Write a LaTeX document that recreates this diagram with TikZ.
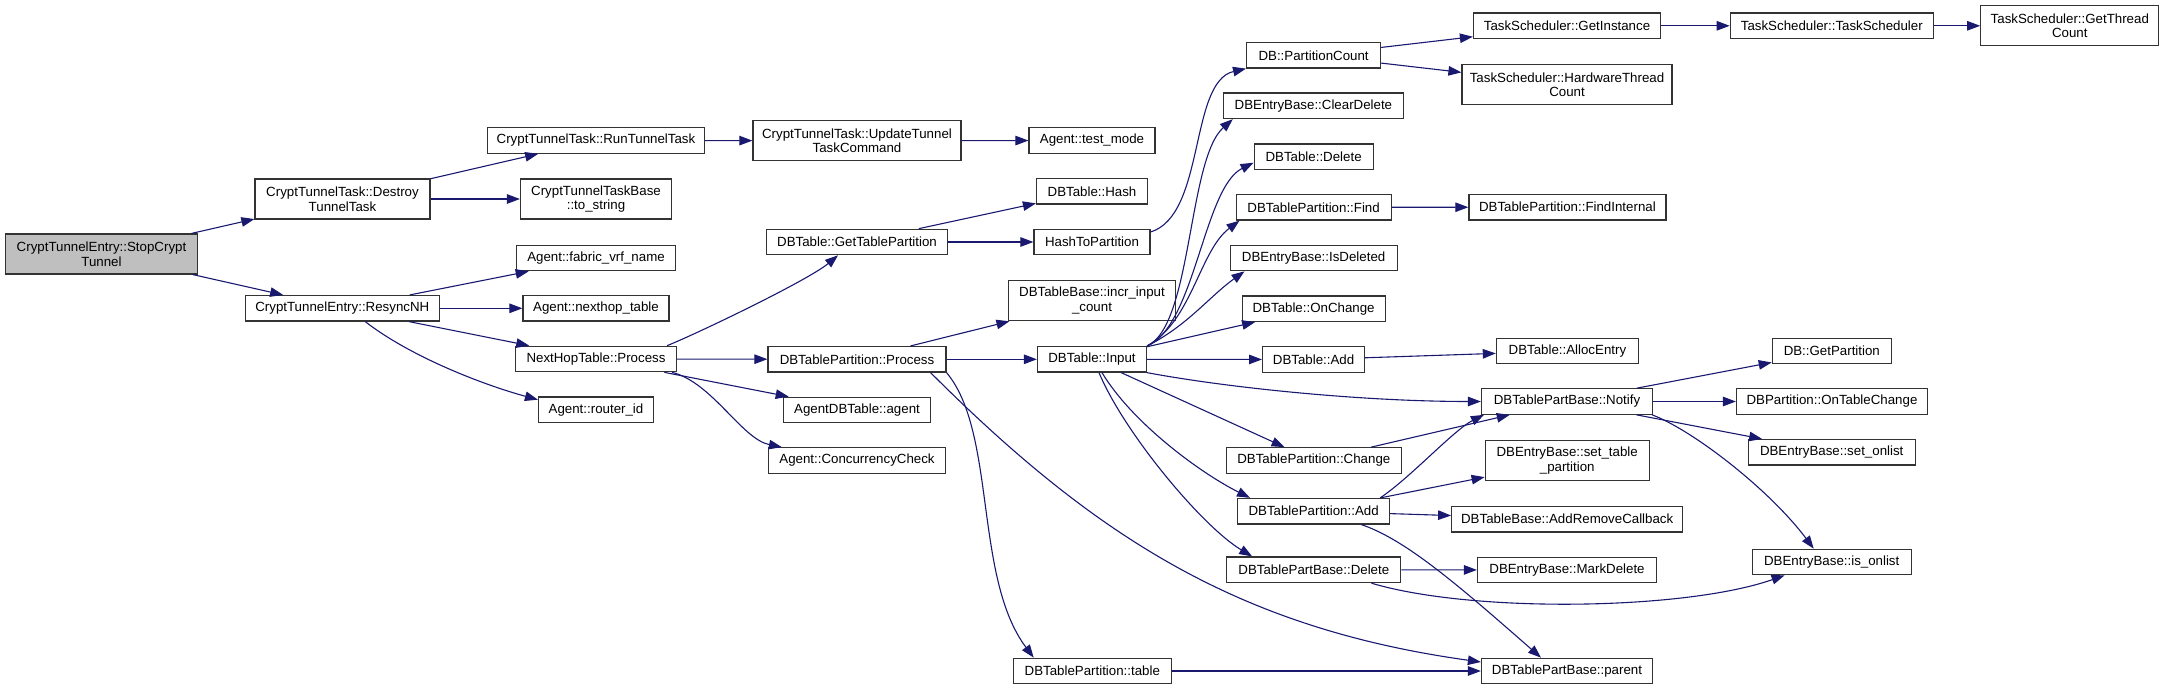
\documentclass[tikz,border=0pt]{standalone}
\usepackage{fontspec}
\setmainfont{Liberation Sans}
\usetikzlibrary{arrows.meta}
\definecolor{edgeblue}{HTML}{191970}
\definecolor{rootgray}{HTML}{BFBFBF}
\definecolor{boxline}{HTML}{333333}
\begin{document}
\begin{tikzpicture}[x=1pt,y=-1pt,>={Triangle[length=13pt,width=9.5pt]},
	fn/.style={draw=boxline,fill=white,line width=1.2pt,minimum height=25.5pt,inner sep=0pt,align=center,font=\fontsize{13.3}{14.5}\selectfont},
	fntwo/.style={fn,minimum height=40pt},
	call/.style={->,draw=edgeblue,line width=1.1pt}]
	\useasboundingbox (0,0) rectangle (2164,690);
	% column 1 and 2
	\node[fntwo,fill=rootgray,minimum width=192pt] (stop) at (101.5,254) {CryptTunnelEntry::StopCrypt\\Tunnel};
	\node[fntwo,minimum width=175pt] (destroy) at (342.5,199) {CryptTunnelTask::Destroy\\TunnelTask};
	\node[fn,minimum width=194pt] (resync) at (342.3,308.3) {CryptTunnelEntry::ResyncNH};
	% column 3
	\node[fn,minimum width=217pt] (runtask) at (596,140.5) {CryptTunnelTask::RunTunnelTask};
	\node[fntwo,minimum width=151pt] (tostr) at (596,199) {CryptTunnelTaskBase\\::to\_string};
	\node[fn,minimum width=159pt] (fabric) at (596,258) {Agent::fabric\_vrf\_name};
	\node[fn,minimum width=146pt] (nhtable) at (596,308.3) {Agent::nexthop\_table};
	\node[fn,minimum width=161pt] (nhproc) at (596,359) {NextHopTable::Process};
	\node[fn,minimum width=115pt] (routerid) at (596,409.7) {Agent::router\_id};
	% column 4
	\node[fntwo,minimum width=208pt] (updcmd) at (857,140.7) {CryptTunnelTask::UpdateTunnel\\TaskCommand};
	\node[fn,minimum width=181pt] (gettp) at (857,242) {DBTable::GetTablePartition};
	\node[fn,minimum width=178pt] (tpproc) at (857,359.3) {DBTablePartition::Process};
	\node[fn,minimum width=147pt] (agent) at (857,410) {AgentDBTable::agent};
	\node[fn,minimum width=177pt] (conc) at (857,460.5) {Agent::ConcurrencyCheck};
	% column 5
	\node[fn,minimum width=126pt] (testmode) at (1092,140.5) {Agent::test\_mode};
	\node[fn,minimum width=111pt] (hash) at (1092,191.3) {DBTable::Hash};
	\node[fn,minimum width=116pt] (hashtp) at (1092,242) {HashToPartition};
	\node[fntwo,minimum width=167pt] (incr) at (1092,300.7) {DBTableBase::incr\_input\\\_count};
	\node[fn,minimum width=109pt] (input) at (1092,359.3) {DBTable::Input};
	\node[fn,minimum width=158pt] (tptable) at (1092.3,671) {DBTablePartition::table};
	% column 6
	\node[fn,minimum width=134pt] (pcount) at (1313.6,55.3) {DB::PartitionCount};
	\node[fn,minimum width=180pt] (clrdel) at (1313.4,105.8) {DBEntryBase::ClearDelete};
	\node[fn,minimum width=119pt] (tdel) at (1313.6,156.7) {DBTable::Delete};
	\node[fn,minimum width=155pt] (find) at (1313.6,207.3) {DBTablePartition::Find};
	\node[fn,minimum width=167pt] (isdel) at (1313.6,258) {DBEntryBase::IsDeleted};
	\node[fn,minimum width=143pt] (onchg) at (1313.6,308.7) {DBTable::OnChange};
	\node[fn,minimum width=102pt] (tadd) at (1313.6,359.5) {DBTable::Add};
	\node[fn,minimum width=175pt] (tpchg) at (1313.8,460.5) {DBTablePartition::Change};
	\node[fn,minimum width=152pt] (tpadd) at (1313.6,511.2) {DBTablePartition::Add};
	\node[fn,minimum width=174pt] (pbdel) at (1313.8,569.8) {DBTablePartBase::Delete};
	% column 7
	\node[fn,minimum width=187pt] (getinst) at (1567,25.8) {TaskScheduler::GetInstance};
	\node[fntwo,minimum width=210pt] (hwthr) at (1567,84.5) {TaskScheduler::HardwareThread\\Count};
	\node[fn,minimum width=197pt] (findint) at (1567.4,207.2) {DBTablePartition::FindInternal};
	\node[fn,minimum width=142pt] (alloc) at (1567.4,351) {DBTable::AllocEntry};
	\node[fn,minimum width=171pt] (notify) at (1567,401.5) {DBTablePartBase::Notify};
	\node[fntwo,minimum width=164pt] (settp) at (1567.2,460.7) {DBEntryBase::set\_table\\\_partition};
	\node[fn,minimum width=231pt] (addrm) at (1567.2,519.2) {DBTableBase::AddRemoveCallback};
	\node[fn,minimum width=179pt] (markdel) at (1567,570) {DBEntryBase::MarkDelete};
	\node[fn,minimum width=171pt] (parent) at (1567,671) {DBTablePartBase::parent};
	% column 8 and 9
	\node[fn,minimum width=203pt] (tsched) at (1831.8,25.8) {TaskScheduler::TaskScheduler};
	\node[fn,minimum width=119pt] (getpart) at (1831.8,351) {DB::GetPartition};
	\node[fn,minimum width=191pt] (ontchg) at (1832,401.5) {DBPartition::OnTableChange};
	\node[fn,minimum width=167pt] (setonl) at (1831.7,452.3) {DBEntryBase::set\_onlist};
	\node[fn,minimum width=159pt] (isonl) at (1831.7,562) {DBEntryBase::is\_onlist};
	\node[fntwo,minimum width=178pt] (getthr) at (2069.8,25.8) {TaskScheduler::GetThread\\Count};
	% straight calls
	\foreach \a/\b in {stop/destroy,stop/resync,destroy/runtask,destroy/tostr,runtask/updcmd,updcmd/testmode,
		resync/fabric,resync/nhtable,resync/nhproc,nhproc/tpproc,nhproc/agent,gettp/hash,gettp/hashtp,
		tpproc/incr,tpproc/input,input/onchg,input/tadd,input/tpchg,tadd/alloc,find/findint,pcount/getinst,
		pcount/hwthr,getinst/tsched,tsched/getthr,tpchg/notify,tpadd/settp,tpadd/addrm,pbdel/markdel,
		tptable/parent,notify/getpart,notify/ontchg,notify/setonl}
		\draw[call] (\a) -- (\b);
	% curved calls
	\draw[call] ([xshift=23pt]resync.south) .. controls +(45,35) and +(-55,-15) .. ([yshift=10pt]routerid.west);
	\draw[call] ([xshift=-10pt]nhproc.north east) .. controls +(30,-12) and +(-30,25) .. ([xshift=-19pt]gettp.south);
	\draw[call] ([xshift=-5pt]nhproc.south east) .. controls +(40,10) and +(-40,-8) .. ([xshift=14pt]conc.north west);
	\draw[call] ([yshift=10pt]hashtp.east) .. controls +(55,-17) and +(-57,13) .. (pcount.south west);
	\draw[call] (input.north east) .. controls +(45,-20) and +(-45,40) .. ([xshift=10pt]clrdel.south west);
	\draw[call] (input.north east) .. controls +(48,-20) and +(-50,25) .. ([yshift=-6pt]tdel.west);
	\draw[call] (input.north east) .. controls +(45,-25) and +(-40,30) .. ([xshift=4pt]find.south west);
	\draw[call] (input.north east) .. controls +(40,-20) and +(-35,25) .. ([xshift=15pt]isdel.south west);
	\draw[call] (input.south east) .. controls +(80,15) and +(-120,0) .. (notify.west);
	\draw[call] ([xshift=10pt]input.south) .. controls +(30,50) and +(-50,-25) .. ([xshift=13pt]tpadd.north west);
	\draw[call] ([xshift=7pt]input.south) .. controls +(25,60) and +(-50,-30) .. ([xshift=26pt]pbdel.north west);
	\draw[call] (tpproc.south east) .. controls +(50,60) and +(-60,-80) .. ([xshift=21pt]tptable.north west);
	\draw[call] ([xshift=-16pt]tpproc.south east) .. controls +(169,169) and +(-237,-33) .. ([yshift=9pt]parent.west);
	\draw[call] ([xshift=-10pt]tpadd.north east) .. controls +(30,-20) and +(-30,15) .. ([xshift=3pt]notify.south west);
	\draw[call] ([xshift=-29pt]tpadd.south east) .. controls +(45,15) and +(-80,-70) .. ([xshift=-26pt]parent.north);
	\draw[call] ([xshift=-30pt]pbdel.south east) .. controls +(100,30) and +(-100,35) .. ([xshift=33pt]isonl.south west);
	\draw[call] ([xshift=-1pt]notify.south east) .. controls +(40,15) and +(-45,-60) .. ([xshift=-18pt]isonl.north);
\end{tikzpicture}
\end{document}
